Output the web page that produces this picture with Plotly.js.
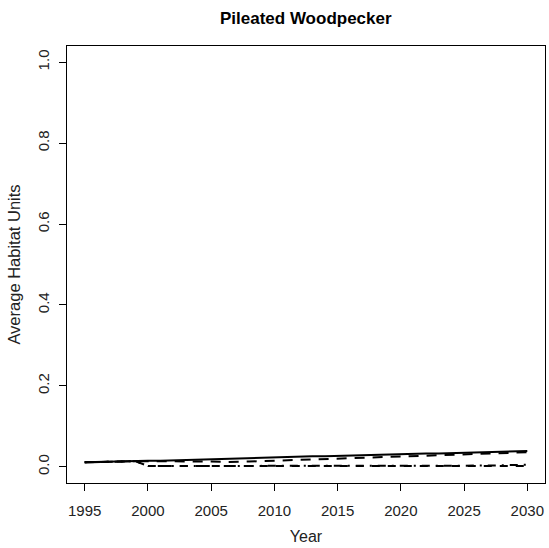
<!DOCTYPE html>
<html>
<head>
<meta charset="utf-8">
<script src="https://cdn.plot.ly/plotly-3.0.1.min.js"></script>
<style>html,body{margin:0;padding:0;background:#fff;}#chart{width:549px;height:548px;}</style>
</head>
<body>
<div id="chart"></div>
<script>
const years = [1995,1996,1997,1998,1999,2000,2001,2002,2003,2004,2005,2006,2007,2008,2009,2010,2011,2012,2013,2014,2015,2016,2017,2018,2019,2020,2021,2022,2023,2024,2025,2026,2027,2028,2029,2030];
const seriesSolid = [0.011,0.012,0.012,0.013,0.014,0.015,0.015,0.016,0.017,0.017,0.018,0.019,0.020,0.021,0.022,0.023,0.024,0.025,0.026,0.026,0.027,0.028,0.029,0.030,0.030,0.031,0.032,0.033,0.033,0.034,0.035,0.036,0.036,0.037,0.038,0.039];
const seriesDashed = [0.011,0.012,0.012,0.013,0.014,0.014,0.014,0.014,0.014,0.013,0.013,0.012,0.012,0.013,0.014,0.015,0.016,0.017,0.018,0.019,0.020,0.021,0.022,0.023,0.024,0.025,0.026,0.027,0.028,0.029,0.030,0.031,0.032,0.034,0.035,0.036];
const seriesLow1 = [0.011,0.012,0.012,0.013,0.014,0.002,0.002,0.002,0.002,0.002,0.002,0.002,0.002,0.002,0.002,0.002,0.002,0.002,0.002,0.002,0.002,0.002,0.002,0.002,0.002,0.002,0.002,0.002,0.002,0.002,0.002,0.002,0.002,0.002,0.002,0.002];
const seriesLow2 = [0.011,0.012,0.012,0.013,0.014,0.002,0.002,0.002,0.002,0.002,0.002,0.002,0.002,0.002,0.002,0.002,0.002,0.002,0.002,0.002,0.002,0.002,0.002,0.002,0.002,0.002,0.002,0.002,0.002,0.002,0.002,0.002,0.003,0.004,0.004,0.005];
const xTicks = [1995,2000,2005,2010,2015,2020,2025,2030];
const yTicks = [0,0.2,0.4,0.6,0.8,1.0];
const yTickText = ["0.0","0.2","0.4","0.6","0.8","1.0"];

const traces = [
  {x: years, y: seriesLow1, mode:'lines', line:{color:'#000', width:2, dash:'8px,8px'}, hoverinfo:'skip'},
  {x: years, y: seriesLow2, mode:'lines', line:{color:'#000', width:2, dash:'2px,6px,8px,6px'}, hoverinfo:'skip'},
  {x: years, y: seriesDashed, mode:'lines', line:{color:'#000', width:2, dash:'10px,8px'}, hoverinfo:'skip'},
  {x: years, y: seriesSolid, mode:'lines', line:{color:'#000', width:2}, hoverinfo:'skip'}
];
const fontFam = 'Liberation Sans, Arial, sans-serif';
const layout = {
  width:549, height:548,
  margin:{l:67, r:4, t:46, b:65},
  paper_bgcolor:'#fff', plot_bgcolor:'#fff',
  showlegend:false,
  font:{family:fontFam, color:'#000'},
  title:{text:'<b>Pileated Woodpecker</b>', font:{family:fontFam, size:17, color:'#000'}, x:0.557, xanchor:'center', y:0.967, yanchor:'middle'},
  xaxis:{
    range:[1993.6,2031.4], tickvals:xTicks, ticktext:xTicks.map(String),
    ticks:'outside', ticklen:7, tickwidth:1, tickcolor:'#000', ticklabelstandoff:7,
    showline:true, linecolor:'#000', linewidth:1, mirror:true,
    showgrid:false, zeroline:false,
    tickfont:{family:fontFam, size:15, color:'#222'},
    title:{text:'Year', font:{family:fontFam, size:16, color:'#222'}, standoff:12}
  },
  yaxis:{
    range:[-0.04,1.04], tickvals:yTicks, ticktext:yTickText, tickangle:-90,
    ticks:'outside', ticklen:7, tickwidth:1, tickcolor:'#000', ticklabelstandoff:4,
    showline:true, linecolor:'#000', linewidth:1, mirror:true,
    showgrid:false, zeroline:false,
    tickfont:{family:fontFam, size:15, color:'#222'},
    title:{text:'Average Habitat Units', font:{family:fontFam, size:16.5, color:'#222'}, standoff:10}
  }
};
Plotly.newPlot('chart', traces, layout, {staticPlot:true, displayModeBar:false});
</script>
</body>
</html>
